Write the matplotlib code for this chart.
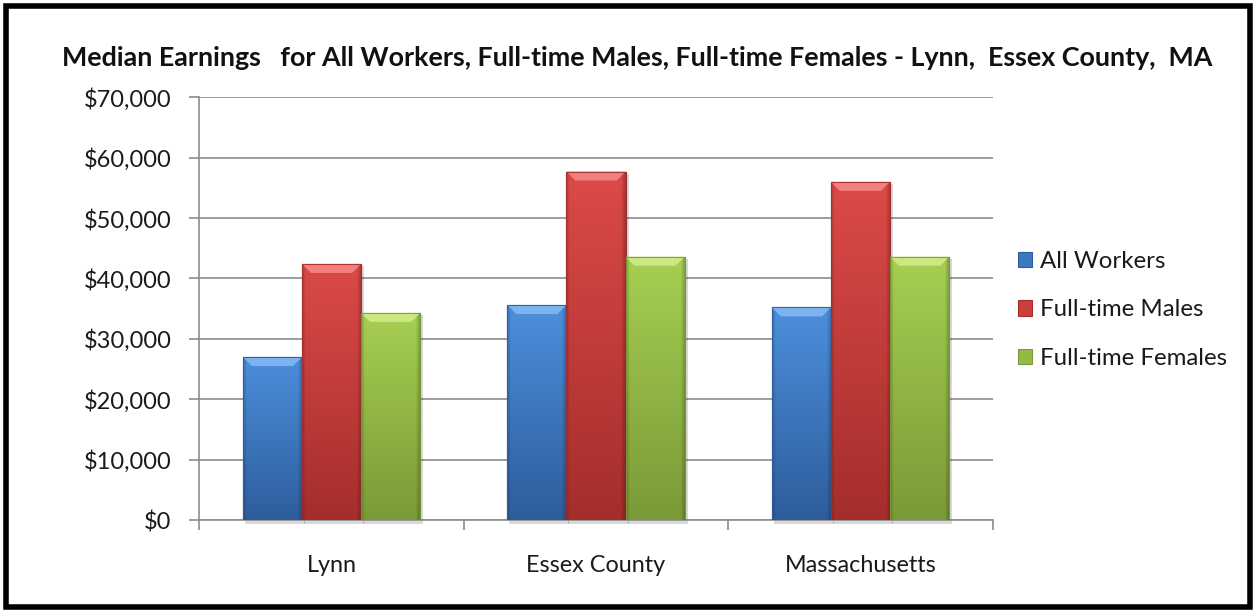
import matplotlib.pyplot as plt
import matplotlib.colors as mcolors
from matplotlib.patches import Rectangle, Polygon, Patch
import numpy as np

places = ["Lynn", "Essex County", "Massachusetts"]
series_names = ["All Workers", "Full-time Males", "Full-time Females"]
all_workers = [27000, 35600, 35200]
males = [42400, 57700, 56000]
females = [34300, 43600, 43600]
y_ticks = [0, 10000, 20000, 30000, 40000, 50000, 60000, 70000]

title = "Median Earnings   for All Workers, Full-time Males, Full-time Females - Lynn,  Essex County,  MA"

# top / middle / bottom / bevel colours for each series
shades = [
    ("#4c8fdc", "#3d78c4", "#2e5d9c", "#7cb4f2"),
    ("#dc4a47", "#cc3f3c", "#a42e2c", "#f28080"),
    ("#a6cf52", "#93b947", "#7a9a38", "#cce883"),
]

plt.rcParams['font.family'] = ['Lato', 'DejaVu Sans']

fig = plt.figure(figsize=(12.56, 6.12), dpi=100)
ax = fig.add_axes([199.3 / 1256, 1 - 520 / 612, (992.7 - 199.3) / 1256, (520 - 97.3) / 612])

x = np.arange(len(places))
bw = 0.2236
values = [all_workers, males, females]

ax.set_xlim(-0.5, 2.5)
ax.set_ylim(0, 70000)

bar_sets = []
for i, vals in enumerate(values):
    bars = ax.bar(x + (i - 1) * bw, vals, width=bw, color=shades[i][1],
                  edgecolor=mcolors.to_rgba(shades[i][2], 0.9), linewidth=0.8, zorder=3)
    bar_sets.append(bars)

fig.canvas.draw()
to_data = ax.transData.inverted()

for i, bars in enumerate(bar_sets):
    top = np.array(mcolors.to_rgb(shades[i][0]))
    bot = np.array(mcolors.to_rgb(shades[i][2]))
    for b in bars:
        x0, y0, w, h = b.get_x(), b.get_y(), b.get_width(), b.get_height()
        (px0, py0) = ax.transData.transform((x0, y0))
        (px1, py1) = ax.transData.transform((x0 + w, y0 + h))
        # soft shadow under the bar
        sh = [to_data.transform(p) for p in [(px0 + 2, py0 - 4), (px1 + 3, py0 - 4), (px1 + 3, py1 - 2), (px0 + 2, py1 - 2)]]
        ax.add_patch(Polygon(sh, closed=True, facecolor=(0, 0, 0, 0.15), edgecolor='none', zorder=2.5, clip_on=False))
        # body gradient
        t = np.linspace(0, 1, 120)[:, None]
        s = np.linspace(0, 1, 60)[None, :]
        img = top[None, None, :] * (1 - t[..., None]) + bot[None, None, :] * t[..., None]
        edge = 1 - 0.18 * np.clip(1 - s / 0.06, 0, 1) - 0.25 * np.clip((s - 0.92) / 0.08, 0, 1)
        img = np.clip(img * edge[..., None], 0, 1)
        im = ax.imshow(img, extent=(x0, x0 + w, y0, y0 + h), aspect='auto', origin='upper',
                       zorder=3.1, interpolation='bilinear')
        im.set_clip_path(b)
        # bevel at top
        bv = 9
        pts = [(px0, py1), (px1, py1), (px1 - bv, py1 - bv), (px0 + bv, py1 - bv)]
        ax.add_patch(Polygon([to_data.transform(p) for p in pts], closed=True,
                             facecolor=shades[i][3], edgecolor='none', zorder=3.2))
        ax.add_patch(Rectangle((x0, y0), w, h, facecolor='none',
                               edgecolor=mcolors.to_rgba(shades[i][2], 0.9), linewidth=0.8, zorder=3.3))

ax.set_xlim(-0.5, 2.5)
ax.set_ylim(0, 70000)

ax.set_yticks(y_ticks)
ax.set_yticklabels(["${:,.0f}".format(v) for v in y_ticks])
ax.yaxis.grid(True, color='#8c8c8c', linewidth=1.2, zorder=0)
ax.set_axisbelow(True)

ax.set_xticks(x)
ax.set_xticklabels(places)
ax.set_xticks([-0.5, 0.5, 1.5, 2.5], minor=True)
ax.tick_params(axis='x', which='major', length=0, pad=25, labelsize=16.8, colors='#1a1a1a')
ax.tick_params(axis='x', which='minor', length=7, width=1.2, color='#8c8c8c', direction='out')
ax.tick_params(axis='y', which='major', length=7, width=1.2, color='#8c8c8c', pad=13,
               labelsize=17, labelcolor='#1a1a1a')

for side in ['top', 'right']:
    ax.spines[side].set_visible(False)
for side in ['left', 'bottom']:
    ax.spines[side].set_color('#8c8c8c')
    ax.spines[side].set_linewidth(1.2)

fig.text(0.507, 1 - 58 / 612, title, ha='center', va='center', fontsize=19.4,
         fontweight='bold', color='#111111')

handles = [Patch(facecolor=shades[i][1], edgecolor=shades[i][2], linewidth=0.8) for i in range(3)]
fig.legend(handles, series_names, loc='center left', bbox_to_anchor=(996 / 1256, 1 - 310 / 612),
           frameon=False, fontsize=17.3, handlelength=0.6, handleheight=0.6, handletextpad=0.35,
           labelspacing=1.15, labelcolor='#1a1a1a')

fig.add_artist(Rectangle((6 / 1256, 5 / 612), 1244 / 1256, 601 / 612, transform=fig.transFigure,
                         facecolor='none', edgecolor='black', linewidth=4, zorder=10))

fig.savefig('out.png', dpi=100)
